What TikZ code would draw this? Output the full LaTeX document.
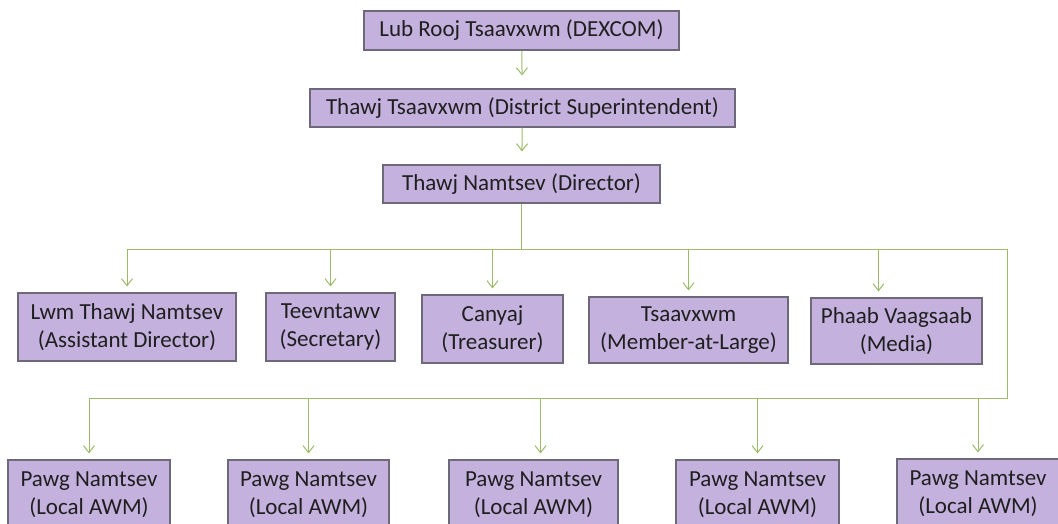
\documentclass[tikz,border=0pt]{standalone}
\usepackage{fontspec}
\setmainfont{Carlito}
\usetikzlibrary{arrows.meta}
\definecolor{boxfill}{RGB}{196,177,222}
\definecolor{boxline}{RGB}{110,105,120}
\definecolor{wire}{RGB}{155,187,105}
\tikzstyle{box} = [draw=boxline,fill=boxfill,line width=1.1pt,inner sep=2pt,align=center,
  text=black!88,font=\fontsize{23}{28}\selectfont]
\tikzstyle{wires} = [draw=wire,line width=1pt]
\tikzstyle{edge} = [wires,-{Straight Barb[length=7pt,width=11pt,line width=1pt]},shorten >=6pt]

\begin{document}
\begin{tikzpicture}[x=1pt,y=-1pt]
   \useasboundingbox (0,0) rectangle (1058,523);

   \node[box,minimum width=315,minimum height=39] (dexcom) at (521.5,30.5) {Lub Rooj Tsaavxwm (DEXCOM)};
   \node[box,minimum width=425,minimum height=38] (supt) at (522.5,108) {Thawj Tsaavxwm (District Superintendent)};
   \node[box,minimum width=277,minimum height=38] (dir) at (521.5,184) {Thawj Namtsev (Director)};

   \node[box,minimum width=218,minimum height=68] (asst) at (127,327) {Lwm Thawj Namtsev\\(Assistant Director)};
   \node[box,minimum width=129,minimum height=68] (secr) at (330.5,327) {Teevntawv\\(Secretary)};
   \node[box,minimum width=141,minimum height=68] (treas) at (492.5,329) {Canyaj\\(Treasurer)};
   \node[box,minimum width=199,minimum height=66] (mal) at (688.5,330) {Tsaavxwm\\(Member-at-Large)};
   \node[box,minimum width=171,minimum height=66] (media) at (896.5,331) {Phaab Vaagsaab\\(Media)};

   \node[box,minimum width=162,minimum height=70] (local1) at (89,495) {Pawg Namtsev\\(Local AWM)};
   \node[box,minimum width=161,minimum height=70] (local2) at (308.5,495) {Pawg Namtsev\\(Local AWM)};
   \node[box,minimum width=169,minimum height=70] (local3) at (533.5,495) {Pawg Namtsev\\(Local AWM)};
   \node[box,minimum width=163,minimum height=70] (local4) at (757.5,495) {Pawg Namtsev\\(Local AWM)};
   \node[box,minimum width=162,minimum height=70] (local5) at (978,494) {Pawg Namtsev\\(Local AWM)};

   \coordinate (busL) at (127,249);
   \coordinate (busR) at (1007,249);
   \coordinate (busR2) at (1007,398);
   \coordinate (busL2) at (89,398);
   \coordinate (mediaIn) at ([xshift=-18pt]media.north);
   \coordinate (local3In) at ([xshift=7pt]local3.north);

   \path[edge,shorten >=13pt] (dexcom) -- (supt);
   \path[edge,shorten >=13pt] (supt) -- (dir);

   \path[wires] (dir.south) -- (dir.south |- busL);
   \path[wires] (busL) -- (busR) -- (busR2) -- (busL2);

   \foreach \n in {asst,secr,treas,mal}
      \path[edge] (busL -| \n) -- (\n.north);
   \path[edge] (mediaIn |- busL) -- (mediaIn);

   \foreach \n in {local1,local2,local4,local5}
      \path[edge] (busL2 -| \n) -- (\n.north);
   \path[edge] (local3In |- busL2) -- (local3In);
\end{tikzpicture}
\end{document}
